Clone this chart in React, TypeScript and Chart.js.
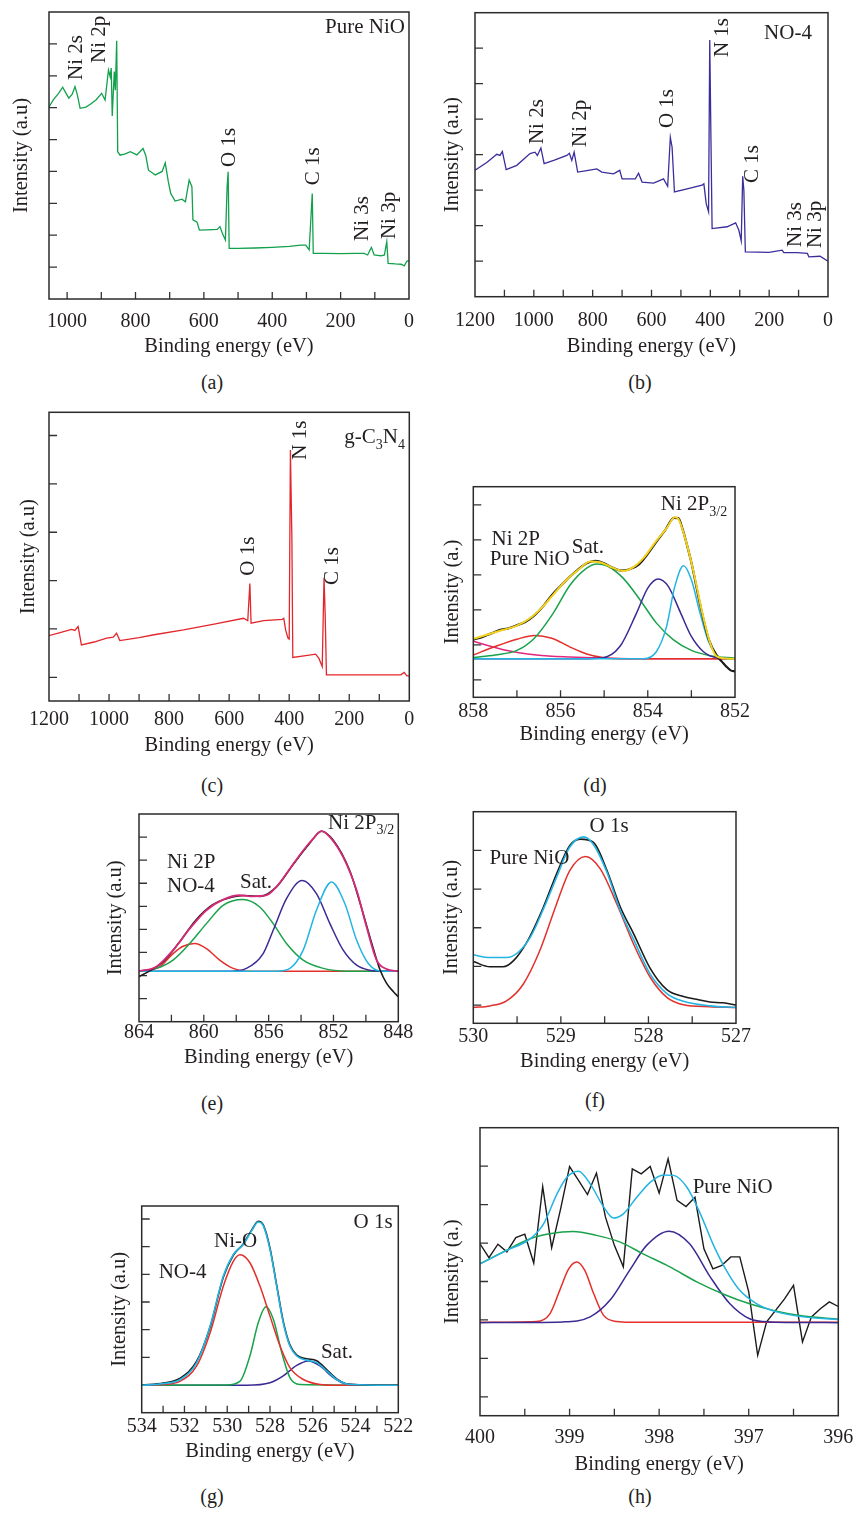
import React, { useEffect, useRef } from 'react';
import { Chart, registerables } from 'chart.js';
Chart.register(...registerables);

const SERIF = "'Liberation Serif', 'DejaVu Serif', serif";
const INK = '#231f20';
const TICK_PX = 20;
const TITLE_PX = 20.5;
const NOTE_PX = 21;
const SUB_PX = 14;
const LH = 0.8;

// ---------- (a) Pure NiO survey ----------
const aBE = [1053, 1040, 1025, 1013, 1003, 995, 985, 977, 970, 962, 945, 930, 915, 899, 889, 879, 874, 871, 868, 862, 859, 855, 852, 845, 830, 815, 796, 778, 770, 762, 742, 722, 713, 704, 697, 684, 664, 654, 643, 635, 632, 620, 613, 590, 561, 553, 546, 537, 532, 529, 526, 500, 450, 400, 350, 317, 302, 292, 283, 280, 250, 200, 160, 131, 121, 110, 102, 82, 72, 65, 61, 40, 23, 14, 6, 0];
const aInt = [6.02, 6.25, 6.45, 6.64, 6.45, 6.3, 6.42, 6.66, 6.4, 5.98, 6.02, 6.12, 6.25, 6.45, 6.24, 7.18, 6.97, 7.24, 5.74, 7.13, 6.55, 8.1, 4.62, 4.51, 4.55, 4.62, 4.52, 4.72, 4.5, 4.04, 3.89, 4.0, 4.27, 3.68, 3.31, 3.07, 3.13, 3.05, 3.73, 3.52, 2.48, 2.41, 2.16, 2.17, 2.18, 2.27, 2.06, 1.85, 3.52, 3.99, 1.59, 1.59, 1.6, 1.62, 1.65, 1.69, 1.69, 1.54, 3.31, 1.43, 1.43, 1.42, 1.43, 1.43, 1.38, 1.62, 1.38, 1.35, 1.38, 1.8, 1.12, 1.1, 1.09, 1.04, 1.19, 1.2];
const aXLabels = [0, 200, 400, 600, 800, 1000];

// ---------- (b) NO-4 survey ----------
const bBE = [1200, 1160, 1126, 1115, 1107, 1094, 1058, 1013, 996, 988, 976, 965, 930, 888, 879, 871, 863, 851, 820, 786, 769, 729, 708, 700, 655, 644, 632, 593, 559, 545, 536, 530, 522, 479, 428, 422, 414, 406, 402, 398, 394, 343, 314, 303, 295, 290, 286, 281, 200, 156, 150, 104, 70, 65, 27, 0];
const bInt = [3.56, 3.78, 4.01, 3.98, 4.09, 3.58, 3.7, 4.03, 4.07, 3.98, 4.19, 3.75, 3.85, 3.98, 4.04, 3.84, 4.07, 3.51, 3.55, 3.6, 3.51, 3.46, 3.56, 3.32, 3.32, 3.48, 3.23, 3.2, 3.32, 3.11, 4.49, 4.21, 2.95, 3.04, 3.14, 3.18, 2.62, 2.39, 7.23, 4.5, 1.92, 1.97, 2.08, 1.87, 1.57, 3.39, 3.0, 1.26, 1.25, 1.31, 1.24, 1.24, 1.22, 1.12, 1.14, 1.0];
const bXLabels = [0, 200, 400, 600, 800, 1000, 1200];

// ---------- (c) g-C3N4 survey ----------
const cBE = [1201, 1160, 1125, 1114, 1103, 1092, 1050, 1008, 986, 975, 964, 900, 850, 752, 650, 552, 538, 531, 527, 485, 423, 418, 412, 404, 400, 396, 391, 388, 345, 312, 301, 290, 284, 280, 276, 200, 100, 28, 17, 8, 0];
const cInt = [0.86, 0.93, 0.99, 0.97, 1.05, 0.67, 0.73, 0.81, 0.83, 0.91, 0.76, 0.82, 0.88, 0.98, 1.1, 1.22, 1.17, 1.94, 1.12, 1.17, 1.2, 1.22, 0.98, 0.81, 0.79, 4.7, 2.84, 0.41, 0.45, 0.48, 0.39, 0.22, 2.06, 1.26, 0.05, 0.05, 0.05, 0.05, 0.1, 0.03, 0.03];
const cXLabels = [0, 200, 400, 600, 800, 1000, 1200];

// ---------- (d) Ni 2P pure NiO ----------
const dDataBE = [858, 857.8, 857.6, 857.4, 857.2, 857.0, 856.8, 856.6, 856.4, 856.2, 856.0, 855.8, 855.6, 855.4, 855.2, 855.0, 854.8, 854.6, 854.4, 854.2, 854.0, 853.8, 853.6, 853.4, 853.3, 853.2, 853.1, 853.0, 852.8, 852.6, 852.4, 852.3, 852.2, 852.1, 852.0];
const dData = [1.15, 1.22, 1.32, 1.42, 1.47, 1.56, 1.66, 1.84, 2.1, 2.42, 2.68, 2.93, 3.15, 3.33, 3.4, 3.33, 3.2, 3.12, 3.17, 3.3, 3.6, 3.95, 4.28, 4.63, 4.62, 4.3, 3.85, 3.35, 2.15, 1.15, 0.66, 0.52, 0.38, 0.27, 0.24];
const dFitBE = [858, 857.69, 857.31, 857.0, 856.7, 856.4, 856.17, 855.86, 855.55, 855.32, 855.1, 854.87, 854.56, 854.33, 854.1, 853.8, 853.57, 853.38, 853.3, 853.11, 852.96, 852.73, 852.57, 852.42, 852.2, 852.0];
const dFit = [1.17, 1.29, 1.43, 1.55, 1.76, 2.1, 2.43, 2.86, 3.19, 3.38, 3.36, 3.24, 3.11, 3.22, 3.48, 3.98, 4.33, 4.65, 4.6, 3.9, 3.14, 1.81, 1.05, 0.67, 0.61, 0.6];
const dRedBE = [858, 857.5, 857, 856.6, 856.2, 855.8, 855.4, 855, 854.5, 852];
const dRed = [0.71, 0.95, 1.16, 1.27, 1.19, 0.95, 0.74, 0.63, 0.6, 0.6];
const dGreenBE = [858, 857.5, 857, 856.6, 856.17, 855.78, 855.4, 855.17, 854.94, 854.56, 854.18, 853.8, 853.41, 853, 852.57, 852];
const dGreen = [0.64, 0.71, 0.84, 1.19, 1.9, 2.71, 3.19, 3.31, 3.26, 2.9, 2.29, 1.62, 1.14, 0.84, 0.69, 0.62];
const dNavyBE = [858, 855.5, 855.06, 854.64, 854.26, 854.0, 853.76, 853.53, 853.26, 853.0, 852.73, 852.42, 852];
const dNavy = [0.6, 0.6, 0.62, 0.95, 1.9, 2.62, 2.88, 2.67, 1.95, 1.24, 0.81, 0.63, 0.6];
const dCyanBE = [858, 854.1, 853.8, 853.57, 853.38, 853.18, 853.0, 852.8, 852.61, 852.42, 852.23, 852];
const dCyan = [0.6, 0.6, 0.81, 1.52, 2.67, 3.26, 2.86, 1.9, 1.1, 0.71, 0.61, 0.6];
const dMagBE = [858, 857.31, 856.55, 855.78, 855, 854, 852];
const dMag = [1.1, 0.86, 0.71, 0.65, 0.62, 0.6, 0.6];
const dXLabels = [852, 854, 856, 858];

// ---------- (e) Ni 2P NO-4 ----------
const eDataBE = [864, 863.34, 862.5, 861.5, 860.5, 859.5, 858.5, 857.5, 856.5, 855.5, 854.5, 853.5, 852.74, 852, 851, 850.3, 849.6, 849.13, 848.72, 848.3, 848];
const eData = [1.95, 2.2, 2.6, 3.45, 4.4, 5.05, 5.35, 5.47, 5.43, 5.85, 6.8, 7.7, 8.25, 7.85, 6.55, 5.0, 3.3, 2.25, 1.66, 1.3, 1.08];
const eFitBE = [864, 862.93, 861.9, 860.87, 859.84, 858.81, 857.78, 856.96, 856.13, 855.52, 854.69, 853.87, 853.25, 852.74, 852.22, 851.4, 850.57, 849.96, 849.34, 848.72, 848];
const eFit = [2.19, 2.38, 3.1, 4.03, 4.83, 5.29, 5.48, 5.43, 5.48, 5.84, 6.63, 7.42, 7.93, 8.26, 8.0, 7.13, 5.69, 4.11, 2.67, 2.28, 2.19];
const eRedBE = [864, 862.72, 861.9, 861.28, 860.56, 859.84, 859.02, 858.19, 857.37, 848];
const eRed = [2.19, 2.38, 2.95, 3.27, 3.39, 3.17, 2.67, 2.31, 2.19, 2.19];
const eGreenBE = [864, 862.93, 861.9, 860.87, 859.84, 858.81, 857.58, 856.55, 855.72, 854.9, 853.87, 852.63, 851.19, 848];
const eGreen = [2.19, 2.31, 2.67, 3.39, 4.25, 5.04, 5.29, 4.97, 4.25, 3.39, 2.67, 2.31, 2.19, 2.19];
const eNavyBE = [864, 858.4, 857.37, 856.34, 855.72, 854.9, 853.93, 853.05, 852.22, 851.4, 850.57, 849.75, 848.93, 848];
const eNavy = [2.19, 2.19, 2.31, 2.95, 3.96, 5.33, 6.12, 5.55, 4.25, 3.1, 2.45, 2.23, 2.19, 2.19];
const eCyanBE = [864, 855.52, 854.69, 853.87, 853.05, 852.12, 851.3, 850.57, 849.85, 849.13, 848];
const eCyan = [2.19, 2.19, 2.31, 3.1, 4.83, 6.05, 5.12, 3.53, 2.52, 2.2, 2.19];
const eXLabels = [848, 852, 856, 860, 864];

// ---------- (f) O 1s pure NiO ----------
const fDataBE = [530, 529.81, 529.66, 529.54, 529.39, 529.2, 529.05, 528.9, 528.78, 528.63, 528.48, 528.32, 528.17, 527.98, 527.79, 527.6, 527.45, 527.3, 527.15, 527];
const fData = [1.13, 0.99, 0.99, 1.15, 1.62, 2.53, 3.39, 4.12, 4.29, 4.21, 3.52, 2.53, 1.85, 0.95, 0.4, 0.22, 0.15, 0.08, 0.06, 0.0];
const fCyanBE = [530, 529.81, 529.62, 529.49, 529.35, 529.2, 529.05, 528.9, 528.74, 528.63, 528.48, 528.32, 528.17, 527.98, 527.79, 527.6, 527.3, 527];
const fCyan = [1.3, 1.23, 1.23, 1.36, 1.75, 2.48, 3.3, 4.08, 4.35, 4.16, 3.47, 2.44, 1.7, 0.8, 0.3, 0.1, -0.02, -0.06];
const fRedBE = [530, 529.81, 529.62, 529.43, 529.24, 529.05, 528.9, 528.72, 528.55, 528.36, 528.17, 527.98, 527.79, 527.6, 527.3, 527];
const fRed = [-0.06, -0.02, 0.11, 0.54, 1.41, 2.61, 3.47, 3.84, 3.52, 2.61, 1.58, 0.72, 0.2, 0.01, -0.04, -0.06];
const fXLabels = [527, 528, 529, 530];

// ---------- (g) O 1s NO-4 ----------
const gEnvBE = [534, 532.99, 532.2, 531.43, 530.8, 530.18, 529.71, 529.25, 528.86, 528.55, 528.31, 528.0, 527.69, 527.38, 527.07, 526.75, 526.29, 525.82, 525.35, 524.88, 524.26, 522];
const gData = [1.0, 1.07, 1.25, 1.86, 3.1, 4.9, 5.7, 6.1, 6.6, 6.92, 6.78, 5.95, 4.62, 3.3, 2.45, 2.08, 1.95, 1.88, 1.56, 1.22, 1.02, 0.99];
const gFit = [0.99, 1.05, 1.2, 1.81, 3.13, 4.94, 5.72, 6.08, 6.57, 6.89, 6.75, 5.9, 4.58, 3.25, 2.41, 2.05, 1.9, 1.81, 1.51, 1.2, 1.02, 0.99];
const gRedBE = [534, 532.99, 532.2, 531.43, 530.8, 530.18, 529.71, 529.4, 528.94, 528.47, 528.0, 527.53, 527.07, 526.44, 525.66, 524.88, 522];
const gRed = [0.99, 1.02, 1.14, 1.69, 2.89, 4.58, 5.48, 5.71, 5.42, 4.58, 3.49, 2.41, 1.63, 1.2, 1.02, 0.99, 0.99];
const gGreenBE = [534, 530.03, 529.4, 528.94, 528.55, 528.19, 527.84, 527.45, 527.07, 526.6, 522];
const gGreen = [0.99, 1.0, 1.14, 2.05, 3.25, 3.83, 3.37, 2.17, 1.27, 1.02, 0.99];
const gNavyBE = [534, 529.09, 528.0, 527.38, 526.75, 526.21, 525.66, 525.04, 524.42, 522];
const gNavy = [0.99, 0.99, 1.08, 1.33, 1.71, 1.87, 1.69, 1.27, 1.04, 0.99];
const gXLabels = [522, 524, 526, 528, 530, 532, 534];

// ---------- (h) N 1s pure NiO ----------
const hDataBE = [400, 399.9, 399.8, 399.7, 399.6, 399.5, 399.4, 399.3, 399.2, 399.1, 399.0, 398.9, 398.8, 398.7, 398.6, 398.5, 398.4, 398.3, 398.2, 398.1, 398.0, 397.9, 397.8, 397.7, 397.6, 397.5, 397.4, 397.3, 397.2, 397.1, 397.0, 396.9, 396.8, 396.7, 396.6, 396.5, 396.4, 396.3, 396.2, 396.1, 396.0];
const hData = [3.98, 3.62, 3.97, 3.77, 4.14, 4.23, 3.48, 5.47, 3.88, 4.89, 5.99, 5.63, 5.26, 5.82, 4.68, 3.94, 3.38, 5.93, 5.8, 5.99, 5.3, 6.19, 5.11, 4.95, 5.19, 3.85, 3.33, 3.42, 3.64, 3.64, 2.73, 1.08, 1.95, 2.25, 2.55, 2.9, 1.43, 2.08, 2.29, 2.47, 2.35];
const hCyanBE = [400, 399.7, 399.44, 399.29, 399.14, 399.03, 398.9, 398.77, 398.62, 398.51, 398.4, 398.25, 398.1, 397.95, 397.84, 397.69, 397.54, 397.4, 397.25, 397.1, 396.91, 396.69, 396.39, 396];
const hCyan = [3.46, 3.81, 4.11, 4.5, 5.28, 5.71, 5.87, 5.54, 4.94, 4.65, 4.76, 5.19, 5.58, 5.77, 5.76, 5.45, 4.76, 3.98, 3.29, 2.77, 2.42, 2.21, 2.08, 2.01];
const hGreenBE = [400, 399.74, 399.44, 399.22, 398.96, 398.7, 398.44, 398.18, 397.88, 397.58, 397.28, 396.99, 396.69, 396.39, 396];
const hGreen = [3.46, 3.77, 4.11, 4.24, 4.3, 4.2, 4.03, 3.72, 3.38, 2.99, 2.67, 2.42, 2.23, 2.1, 2.02];
const hRedBE = [400, 399.37, 399.22, 399.11, 399.01, 398.92, 398.83, 398.73, 398.62, 398.47, 398.33, 396];
const hRed = [1.94, 1.96, 2.16, 2.77, 3.33, 3.51, 3.29, 2.68, 2.12, 1.96, 1.94, 1.94];
const hNavyBE = [400, 399.07, 398.77, 398.55, 398.33, 398.14, 397.89, 397.66, 397.43, 397.21, 396.99, 396.76, 396];
const hNavy = [1.93, 1.95, 2.08, 2.51, 3.29, 3.94, 4.31, 3.98, 3.12, 2.42, 2.03, 1.95, 1.93];
const hXLabels = [396, 397, 398, 399, 400];

// ---------- colours ----------
const C = {
  black: '#1b1b1b', green: '#1aa24b', navy: '#3a2b93', red: '#e3302b', cyan: '#22b4e2',
  magenta: '#e0287f', yellow: '#f4d21c', pink: '#d62a78', survA: '#12a04c', survB: '#3a2d9c', survC: '#e3262b',
};

type Part = { t: string; sub?: boolean };
type Note = { parts: Part[]; x: number; y: number; align?: 'left' | 'center' | 'right'; rot?: boolean };
type Series = { x: number[]; y: number[]; color: string; w?: number; smooth?: boolean };
type Panel = {
  plot: { l: number; t: number; r: number; b: number };
  yTitleX: number; tickY: number; titleY: number;
  xMin: number; xMax: number; xStep: number; xLabels: number[];
  yMin: number; yMax: number; yTitle: string;
  series: Series[]; notes: Note[];
};

const T = (t: string): Part[] => [{ t }];

const PANELS: Panel[] = [
  {
    plot: { l: 49, t: 12, r: 409, b: 299 }, yTitleX: 21.7, tickY: 321.7, titleY: 346.7,
    xMin: 0, xMax: 1053, xStep: 100, xLabels: aXLabels, yMin: 0, yMax: 9, yTitle: 'Intensity (a.u)',
    series: [{ x: aBE, y: aInt, color: C.survA, w: 1.3 }],
    notes: [
      { parts: T('Pure NiO'), x: 11.7, y: 8.53, align: 'right' },
      { parts: T('Ni 2s'), x: 972, y: 6.87, rot: true },
      { parts: T('Ni 2p'), x: 904, y: 7.4, rot: true },
      { parts: T('O 1s'), x: 524, y: 4.14, rot: true },
      { parts: T('C 1s'), x: 278, y: 3.57, rot: true },
      { parts: T('Ni 3s'), x: 135, y: 1.82, rot: true },
      { parts: T('Ni 3p'), x: 58, y: 1.88, rot: true },
    ],
  },
  {
    plot: { l: 475, t: 12.7, r: 828, b: 296.7 }, yTitleX: 452.3, tickY: 320.7, titleY: 346.7,
    xMin: 0, xMax: 1200, xStep: 100, xLabels: bXLabels, yMin: 0, yMax: 8, yTitle: 'Intensity (a.u)',
    series: [{ x: bBE, y: bInt, color: C.survB, w: 1.3 }],
    notes: [
      { parts: T('NO-4'), x: 136, y: 7.42, align: 'center' },
      { parts: T('N 1s'), x: 357, y: 6.75, rot: true },
      { parts: T('Ni 2s'), x: 986, y: 4.3, rot: true },
      { parts: T('Ni 2p'), x: 841, y: 4.22, rot: true },
      { parts: T('O 1s'), x: 547, y: 4.75, rot: true },
      { parts: T('C 1s'), x: 256, y: 3.2, rot: true },
      { parts: T('Ni 3s'), x: 109, y: 1.4, rot: true },
      { parts: T('Ni 3p'), x: 44, y: 1.37, rot: true },
    ],
  },
  {
    plot: { l: 49, t: 412.3, r: 409.3, b: 701 }, yTitleX: 28.5, tickY: 720, titleY: 746,
    xMin: 0, xMax: 1200, xStep: 100, xLabels: cXLabels, yMin: -0.49, yMax: 5.48, yTitle: 'Intensity (a.u)',
    series: [{ x: cBE, y: cInt, color: C.survC, w: 1.3 }],
    notes: [
      { parts: [{ t: 'g-C' }, { t: '3', sub: true }, { t: 'N' }, { t: '4', sub: true }], x: 14.3, y: 4.95, align: 'right' },
      { parts: T('N 1s'), x: 364, y: 4.5, rot: true },
      { parts: T('O 1s'), x: 536, y: 2.1, rot: true },
      { parts: T('C 1s'), x: 255, y: 1.91, rot: true },
    ],
  },
  {
    plot: { l: 473.3, t: 486.7, r: 735, b: 697.3 }, yTitleX: 452.3, tickY: 711.7, titleY: 735,
    xMin: 852, xMax: 858, xStep: 1, xLabels: dXLabels, yMin: -0.5, yMax: 5.52, yTitle: 'Intensity (a.)',
    series: [
      { x: dMagBE, y: dMag, color: C.magenta, smooth: true },
      { x: dRedBE, y: dRed, color: C.red, smooth: true },
      { x: dGreenBE, y: dGreen, color: C.green, smooth: true },
      { x: dNavyBE, y: dNavy, color: C.navy, smooth: true },
      { x: dCyanBE, y: dCyan, color: C.cyan, smooth: true },
      { x: dDataBE, y: dData, color: C.black, w: 2.2, smooth: true },
      { x: dFitBE, y: dFit, color: C.yellow, w: 2, smooth: true },
    ],
    notes: [
      { parts: T('Ni 2P'), x: 857.58, y: 4.0, align: 'left' },
      { parts: T('Pure NiO'), x: 857.62, y: 3.43, align: 'left' },
      { parts: T('Sat.'), x: 855.74, y: 3.77, align: 'left' },
      { parts: [{ t: 'Ni 2P' }, { t: '3/2', sub: true }], x: 853.7, y: 5.0, align: 'left' },
    ],
  },
  {
    plot: { l: 139, t: 814, r: 398.3, b: 1021.7 }, yTitleX: 116, tickY: 1033, titleY: 1058,
    xMin: 848, xMax: 864, xStep: 2, xLabels: eXLabels, yMin: 0, yMax: 9, yTitle: 'Intensity (a.u)',
    series: [
      { x: eRedBE, y: eRed, color: C.red, smooth: true },
      { x: eGreenBE, y: eGreen, color: C.green, smooth: true },
      { x: eNavyBE, y: eNavy, color: C.navy, smooth: true },
      { x: eCyanBE, y: eCyan, color: C.cyan, smooth: true },
      { x: eDataBE, y: eData, color: C.black, w: 1.6, smooth: true },
      { x: eFitBE, y: eFit, color: C.pink, w: 1.8, smooth: true },
    ],
    notes: [
      { parts: T('Ni 2P'), x: 862.27, y: 6.88, align: 'left' },
      { parts: T('NO-4'), x: 862.27, y: 5.84, align: 'left' },
      { parts: T('Sat.'), x: 857.77, y: 6.05, align: 'left' },
      { parts: [{ t: 'Ni 2P' }, { t: '3/2', sub: true }], x: 852.34, y: 8.6, align: 'left' },
    ],
  },
  {
    plot: { l: 473.3, t: 811.7, r: 736, b: 1023.3 }, yTitleX: 451.7, tickY: 1036.7, titleY: 1061.7,
    xMin: 527, xMax: 530, xStep: 0.5, xLabels: fXLabels, yMin: -0.47, yMax: 5.0, yTitle: 'Intensity (a.u)',
    series: [
      { x: fRedBE, y: fRed, color: C.red, smooth: true },
      { x: fDataBE, y: fData, color: C.black, w: 1.6, smooth: true },
      { x: fCyanBE, y: fCyan, color: C.cyan, w: 1.6, smooth: true },
    ],
    notes: [
      { parts: T('O 1s'), x: 528.45, y: 4.61, align: 'center' },
      { parts: T('Pure NiO'), x: 529.36, y: 3.79, align: 'center' },
    ],
  },
  {
    plot: { l: 141.7, t: 1206, r: 398.3, b: 1412.7 }, yTitleX: 119.3, tickY: 1427, titleY: 1452,
    xMin: 522, xMax: 534, xStep: 1, xLabels: gXLabels, yMin: 0, yMax: 7.47, yTitle: 'Intensity (a.u)',
    series: [
      { x: gNavyBE, y: gNavy, color: C.navy, smooth: true },
      { x: gGreenBE, y: gGreen, color: C.green, smooth: true },
      { x: gRedBE, y: gRed, color: C.red, smooth: true },
      { x: gEnvBE, y: gData, color: C.black, w: 1.6, smooth: true },
      { x: gEnvBE, y: gFit, color: C.cyan, w: 1.6, smooth: true },
    ],
    notes: [
      { parts: T('O 1s'), x: 523.18, y: 6.89, align: 'center' },
      { parts: T('Ni-O'), x: 529.61, y: 6.17, align: 'center' },
      { parts: T('NO-4'), x: 532.09, y: 5.08, align: 'center' },
      { parts: T('Sat.'), x: 524.87, y: 2.19, align: 'center' },
    ],
  },
  {
    plot: { l: 480, t: 1127.7, r: 838.3, b: 1415.7 }, yTitleX: 452.7, tickY: 1437.7, titleY: 1465,
    xMin: 396, xMax: 400, xStep: 0.5, xLabels: hXLabels, yMin: -0.49, yMax: 7.0, yTitle: 'Intensity (a.)',
    series: [
      { x: hDataBE, y: hData, color: C.black, w: 1.4 },
      { x: hRedBE, y: hRed, color: C.red, smooth: true },
      { x: hNavyBE, y: hNavy, color: C.navy, smooth: true },
      { x: hGreenBE, y: hGreen, color: C.green, smooth: true },
      { x: hCyanBE, y: hCyan, color: C.cyan, smooth: true },
    ],
    notes: [{ parts: T('Pure NiO'), x: 397.18, y: 5.45, align: 'center' }],
  },
];

const CAPTIONS: [string, number, number][] = [
  ['(a)', 212, 382], ['(b)', 640, 382], ['(c)', 212, 785], ['(d)', 595, 785],
  ['(e)', 212, 1103], ['(f)', 595, 1100], ['(g)', 212, 1496], ['(h)', 640, 1496],
];

function drawNote(ctx: CanvasRenderingContext2D, n: Note, px: number, py: number) {
  ctx.save();
  ctx.fillStyle = INK;
  ctx.textBaseline = 'middle';
  ctx.textAlign = 'left';
  const widths = n.parts.map((p) => {
    ctx.font = `${p.sub ? SUB_PX : NOTE_PX}px ${SERIF}`;
    return ctx.measureText(p.t).width;
  });
  const total = widths.reduce((s, w) => s + w, 0);
  ctx.translate(px, py);
  let x0 = 0;
  if (n.rot) ctx.rotate(-Math.PI / 2);
  else if (n.align === 'center') x0 = -total / 2;
  else if (n.align === 'right') x0 = -total;
  n.parts.forEach((p, i) => {
    ctx.font = `${p.sub ? SUB_PX : NOTE_PX}px ${SERIF}`;
    ctx.fillText(p.t, x0, p.sub ? 7 : 0);
    x0 += widths[i];
  });
  ctx.restore();
}

function makeDecor(notes: Note[]) {
  return {
    id: 'decor',
    beforeDatasetsDraw(chart: any) {
      const { ctx, chartArea: a, scales } = chart;
      ctx.save();
      ctx.strokeStyle = '#333';
      ctx.lineWidth = 1.3;
      ctx.beginPath();
      for (const t of scales.x.ticks) {
        const px = scales.x.getPixelForValue(t.value);
        if (px < a.left + 2 || px > a.right - 2) continue;
        ctx.moveTo(px, a.bottom);
        ctx.lineTo(px, a.bottom - 7);
      }
      for (const t of scales.y.ticks) {
        const py = scales.y.getPixelForValue(t.value);
        if (py < a.top + 2 || py > a.bottom - 2) continue;
        ctx.moveTo(a.left, py);
        ctx.lineTo(a.left + 8, py);
      }
      ctx.stroke();
      ctx.restore();
    },
    afterDatasetsDraw(chart: any) {
      const { ctx, chartArea: a, scales } = chart;
      ctx.save();
      ctx.strokeStyle = '#2b2b2b';
      ctx.lineWidth = 1.5;
      ctx.strokeRect(a.left, a.top, a.right - a.left, a.bottom - a.top);
      ctx.restore();
      for (const n of notes) {
        drawNote(ctx, n, scales.x.getPixelForValue(n.x), scales.y.getPixelForValue(n.y));
      }
    },
  };
}

function PanelChart({ p }: { p: Panel }) {
  const ref = useRef<HTMLCanvasElement>(null);
  const th = (TITLE_PX * LH) / 2;
  const lh = (TICK_PX * LH) / 2;
  const cx = Math.floor(p.yTitleX - th - 4);
  const cy = Math.floor(p.plot.t - 8);
  const cr = Math.ceil(p.plot.r + 18);
  const cb = Math.ceil(p.titleY + th + 4);
  const w = cr - cx;
  const h = cb - cy;

  useEffect(() => {
    const tickPad = p.tickY - p.plot.b - lh;
    const titlePadTop = p.titleY - p.tickY - tickPad - lh - th;
    const datasets = p.series.map((s, i) => ({
      data: s.x.map((x, j) => ({ x, y: s.y[j] })),
      borderColor: s.color,
      borderWidth: s.w ?? 1.5,
      pointRadius: 0,
      fill: false,
      tension: s.smooth ? 0.4 : 0,
      cubicInterpolationMode: s.smooth ? 'monotone' : 'default',
      order: p.series.length - i,
    }));
    const chart = new Chart(ref.current as HTMLCanvasElement, {
      type: 'line',
      data: { datasets } as any,
      options: {
        animation: false,
        responsive: false,
        devicePixelRatio: 1,
        events: [],
        layout: {
          padding: {
            left: p.yTitleX - th - cx,
            top: p.plot.t - cy,
            right: cr - p.plot.r,
            bottom: cb - (p.titleY + th),
          },
        },
        plugins: { legend: { display: false }, tooltip: { enabled: false } },
        elements: { point: { radius: 0 } },
        scales: {
          x: {
            type: 'linear',
            min: p.xMin,
            max: p.xMax,
            reverse: true,
            grid: { display: false, drawTicks: false },
            border: { display: false },
            afterFit: (s: any) => {
              s.paddingLeft = 0;
              s.paddingRight = 0;
            },
            ticks: {
              stepSize: p.xStep,
              includeBounds: false,
              autoSkip: false,
              maxRotation: 0,
              padding: tickPad,
              color: INK,
              font: { family: SERIF, size: TICK_PX, lineHeight: LH },
              callback: (v: any) =>
                p.xLabels.some((l) => Math.abs(l - Number(v)) < 1e-6) ? String(Math.round(Number(v))) : '',
            },
            title: {
              display: true,
              text: 'Binding energy (eV)',
              color: INK,
              font: { family: SERIF, size: TITLE_PX, lineHeight: LH },
              padding: { top: titlePadTop, bottom: 0 },
            },
          },
          y: {
            type: 'linear',
            min: p.yMin,
            max: p.yMax,
            grid: { display: false, drawTicks: false },
            border: { display: false },
            ticks: { display: false, stepSize: 1, includeBounds: false },
            title: {
              display: true,
              text: p.yTitle,
              color: INK,
              font: { family: SERIF, size: TITLE_PX, lineHeight: LH },
              padding: { top: 0, bottom: p.plot.l - p.yTitleX - th },
            },
          },
        },
      } as any,
      plugins: [makeDecor(p.notes)],
    });
    return () => chart.destroy();
  }, []);

  return (
    <canvas
      ref={ref}
      width={w}
      height={h}
      style={{ position: 'absolute', left: cx, top: cy, width: w, height: h }}
    />
  );
}

export default function App() {
  return (
    <div
      style={{
        position: 'absolute', left: 0, top: 0, width: 858, height: 1518,
        background: '#fff', overflow: 'hidden', fontFamily: SERIF, color: INK,
      }}
    >
      {PANELS.map((p, i) => (
        <PanelChart key={i} p={p} />
      ))}
      {CAPTIONS.map(([t, x, y]) => (
        <div
          key={t}
          style={{
            position: 'absolute', left: x, top: y, transform: 'translate(-50%, -50%)',
            fontSize: 20, lineHeight: 1, whiteSpace: 'nowrap',
          }}
        >
          {t}
        </div>
      ))}
    </div>
  );
}
